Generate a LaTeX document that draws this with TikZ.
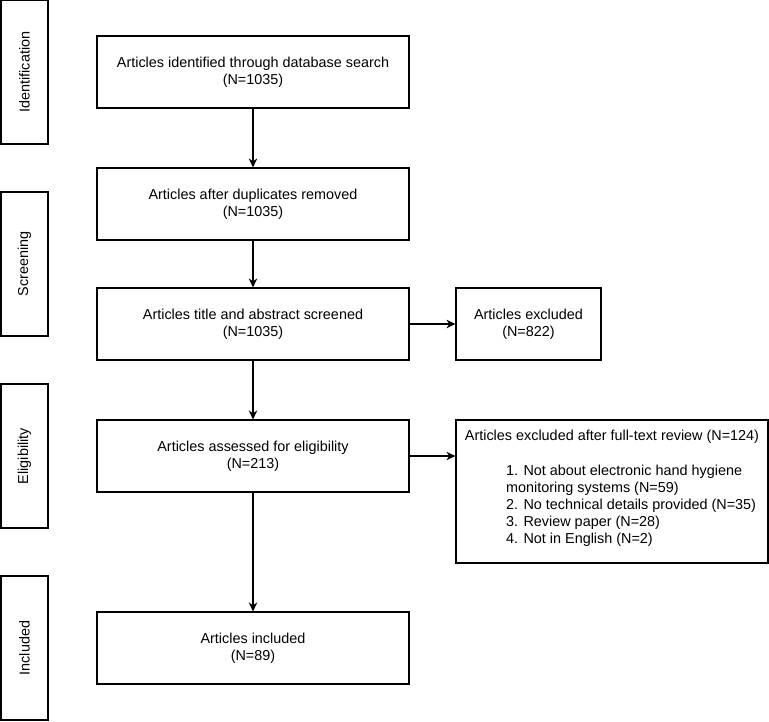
\documentclass[tikz,border=0pt]{standalone}
\usepackage{fontspec}
\setmainfont{Liberation Sans}
\usetikzlibrary{arrows.meta}

\begin{document}
\begin{tikzpicture}[x=1pt,y=-1pt,
  box/.style={draw=black, line width=1.2pt, minimum width=312pt, minimum height=72pt, align=center},
  phase/.style={draw=black, line width=1.2pt, rotate=90, minimum width=144pt, minimum height=47pt},
  arr/.style={line width=1.2pt, -{Stealth[length=9pt,width=8.5pt]}}]
            \tikzstyle{every node}+=[inner sep=0pt, font=\fontsize{14.4}{17}\selectfont]
            \useasboundingbox (0,0) rectangle (769,721);
            \node [phase] (ident) at (24.5,72) {Identification};
            \node [phase] (screening) at (24.5,264) {Screening};
            \node [phase] (eligibility) at (24.5,456) {Eligibility};
            \node [phase] (included) at (24.5,648) {Included};
            \node [box] (found) at (253,72) {Articles identified through database search\\(N=1035)};
            \node [box] (dedup) at (253,204) {Articles after duplicates removed\\(N=1035)};
            \node [box] (screen) at (253,324) {Articles title and abstract screened\\(N=1035)};
            \node [box, minimum width=145pt] (excl) at (528.5,324) {Articles excluded\\(N=822)};
            \node [box] (elig) at (253,456) {Articles assessed for eligibility\\(N=213)};
            \node [box, minimum height=143pt] (fulltext) at (612,491.5) {};
            \node (ftxhead) at (612,437) {Articles excluded after full-text review (N=124)};
            \node [anchor=west, align=left] (ftxlist) at (506,506) {1. Not about electronic hand hygiene\\monitoring systems (N=59)\\2. No technical details provided (N=35)\\3. Review paper (N=28)\\4. Not in English (N=2)};
            \node [box] (incl) at (253,648) {Articles included\\(N=89)};
            \draw [arr] (found) -- (dedup);
            \draw [arr] (dedup) -- (screen);
            \draw [arr] (screen) -- (elig);
            \draw [arr] (elig) -- (incl);
            \draw [arr] (screen) -- (excl);
            \draw [arr] (elig.east) -- (elig.east -| fulltext.west);
\end{tikzpicture}
\end{document}
